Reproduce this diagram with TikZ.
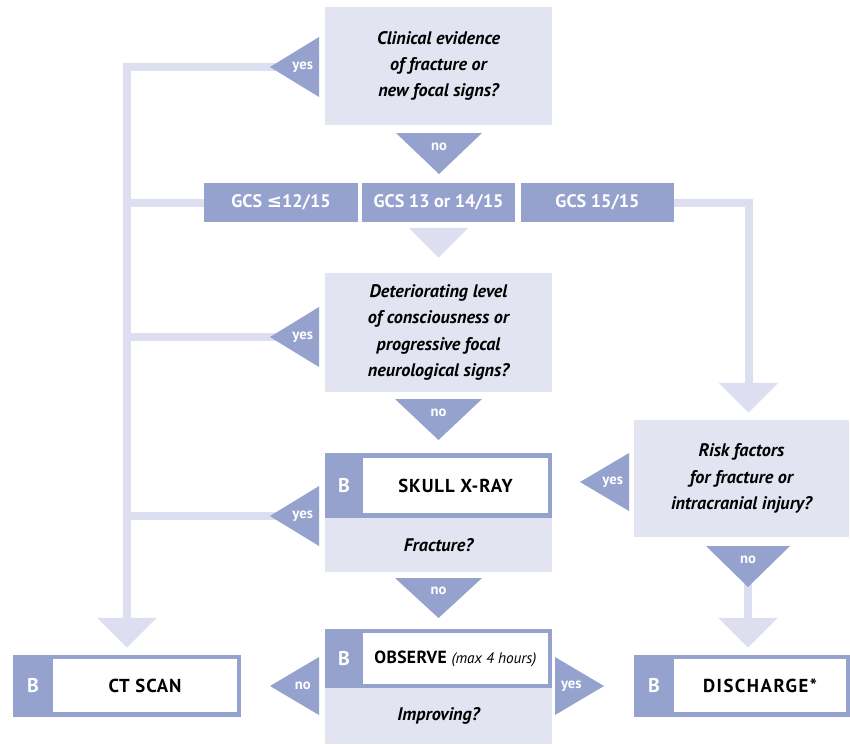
\documentclass[tikz,border=0pt]{standalone}
\usepackage{fontspec}
\setmainfont{PT Sans}
\newfontfamily\symfont{DejaVu Sans}
\usepackage{tikz}
\usetikzlibrary{arrows.meta,positioning}

\definecolor{markblue}{RGB}{149,162,206}
\definecolor{boxlav}{RGB}{227,228,242}
\definecolor{barlav}{RGB}{221,223,240}

\begin{document}
\begin{tikzpicture}[x=0.03cm, y=-0.03cm,
    question/.style={rectangle, fill=boxlav, minimum width=6.81cm, minimum height=3.54cm, align=center, font=\bfseries\itshape\fontsize{15.5}{22.5}\selectfont},
    gcs/.style={rectangle, fill=markblue, text=white, minimum width=4.6cm, minimum height=1.17cm, font=\bfseries\fontsize{15.5}{17}\selectfont},
    band/.style={rectangle, fill=markblue, inner sep=0pt},
    action/.style={rectangle, fill=white, inner sep=0pt, minimum height=1.59cm, font=\bfseries\fontsize{16}{18}\selectfont\addfontfeature{LetterSpace=5}},
    letter/.style={text=white, font=\bfseries\fontsize{17}{19}\selectfont},
    bar/.style={draw=barlav, line width=0.24cm},
    head/.style={-{Triangle[width=1.74cm, length=0.9cm]}},
    answer/.style={fill=markblue},
    answertext/.style={text=white, font=\bfseries\fontsize{12.5}{14}\selectfont}
]
    \useasboundingbox (0,0) rectangle (850,744);

    % questions
    \node[question] (clinical) at (438.5,66) {Clinical evidence\\of fracture or\\new focal signs?};
    \node[gcs] (gcslow) at (281,202.5) {GCS {\symfont ≤}12/15};
    \node[gcs] (gcsmid) at (438.5,202.5) {GCS 13 or 14/15};
    \node[gcs] (gcsfull) at (597.5,202.5) {GCS 15/15};
    \node[question, minimum height=3.57cm] (deterior) at (438.5,332.5) {Deteriorating level\\of consciousness or\\progressive focal\\neurological signs?};
    \node[question, minimum width=6.45cm, minimum height=3.51cm] (risk) at (741.5,478.5) {Risk factors\\for fracture or\\intracranial injury?};

    % skull x-ray
    \node[band, minimum width=6.81cm, minimum height=1.95cm] (xrayband) at (438.5,485.5) {};
    \node[action, minimum width=5.55cm, minimum height=1.65cm] (xray) at (455.5,485.5) {SKULL X-RAY};
    \node[letter] (xrayB) at (344,485.5) {B};
    \node[question, minimum height=1.62cm] (fracture) at (438.5,545) {Fracture?};

    % observe
    \node[band, minimum width=6.81cm, minimum height=1.77cm] (obsband) at (438.5,658.5) {};
    \node[action, minimum width=5.55cm, minimum height=1.53cm, font=\bfseries\fontsize{15}{18}\selectfont\addfontfeature{LetterSpace=2}] (observe) at (455.5,658.5) {OBSERVE {\mdseries\itshape\fontsize{13}{16}\selectfont\addfontfeature{LetterSpace=0}(max 4 hours)}};
    \node[letter] (obsB) at (344,658.5) {B};
    \node[question, minimum height=1.68cm] (improving) at (438.5,716) {Improving?};

    % ct scan
    \node[band, minimum width=6.84cm, minimum height=1.86cm] (ctband) at (127,686) {};
    \node[action, minimum width=5.52cm] (ct) at (145,685.5) {CT SCAN};
    \node[letter] (ctB) at (33,686) {B};

    % discharge
    \node[band, minimum width=6.48cm, minimum height=1.86cm] (disband) at (742,686) {};
    \node[action, minimum width=5.16cm, font=\bfseries\fontsize{16}{18}\selectfont\addfontfeature{LetterSpace=8}] (discharge) at (760,685.5) {DISCHARGE*};
    \node[letter] (disB) at (654,686) {B};

    \coordinate (yes1) at (302.7,67);
    \coordinate (yes2) at (302.7,337);
    \coordinate (yes3) at (302.7,516);
    \coordinate (no5) at (748,559.7);

    % connectors
    \draw[bar, head, shorten >=0.21cm] (yes1) -| (ctband.north);
    \draw[bar] (gcslow.west) -- (gcslow.west -| ctband.north);
    \draw[bar] (yes2) -- (yes2 -| ctband.north);
    \draw[bar] (yes3) -- (yes3 -| ctband.north);
    \draw[bar, head, shorten >=0.21cm] (gcsfull.east) -| ([xshift=0.21cm]risk.north);
    \draw[bar, head, shorten <=0.18cm, shorten >=0.45cm] (gcsmid.south) -- (deterior.north);
    \draw[bar, head, shorten >=0.21cm] (no5) -- (no5 |- disband.north);

    % yes / no triangles
    \fill[answer] (319,37) -- (319,97) -- (270,67) -- cycle;
    \fill[answer] (396,133) -- (482,133) -- (439,174) -- cycle;
    \fill[answer] (319,307) -- (319,367) -- (270,337) -- cycle;
    \fill[answer] (395,399) -- (482,399) -- (438.5,440) -- cycle;
    \fill[answer] (629,453) -- (629,511) -- (580,482) -- cycle;
    \fill[answer] (319,486) -- (319,546) -- (270,516) -- cycle;
    \fill[answer] (395,578) -- (482,578) -- (438.5,618) -- cycle;
    \fill[answer] (706,546) -- (790,546) -- (748,587) -- cycle;
    \fill[answer] (319,657) -- (319,715) -- (270,686) -- cycle;
    \fill[answer] (555,657) -- (555,715) -- (604,686) -- cycle;

    \node[answertext] (yes1text) at (yes1) {yes};
    \node[answertext] (no1text) at (439,146.7) {no};
    \node[answertext] (yes2text) at (yes2) {yes};
    \node[answertext] (no2text) at (438.5,412.7) {no};
    \node[answertext] (yes5text) at (612.7,482) {yes};
    \node[answertext] (yes3text) at (yes3) {yes};
    \node[answertext] (no3text) at (438.5,591.3) {no};
    \node[answertext] (no5text) at (no5) {no};
    \node[answertext] (no4text) at (302.7,686) {no};
    \node[answertext] (yes4text) at (571.3,686) {yes};
\end{tikzpicture}
\end{document}
